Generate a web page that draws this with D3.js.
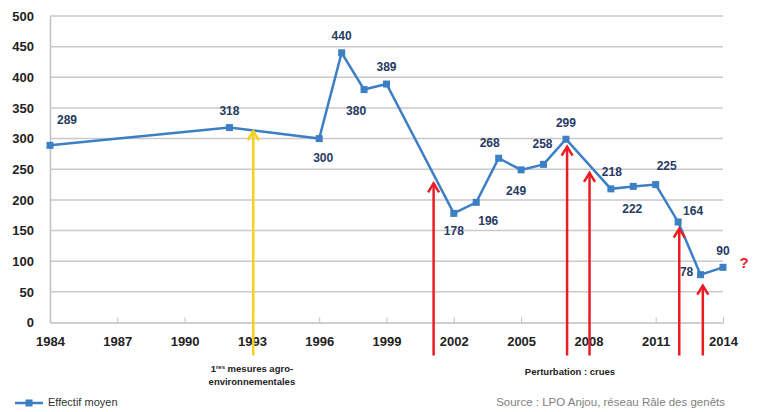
<!DOCTYPE html>
<html>
<head>
<meta charset="utf-8">
<script src="https://cdn.jsdelivr.net/npm/d3@7"></script>
<style>
  body { margin: 0; background: #fff; }
  svg text { font-family: "Liberation Sans", Arial, sans-serif; }
</style>
</head>
<body>
<div id="chart"></div>
<script>
// data
const years = [1984, 1992, 1996, 1997, 1998, 1999, 2002, 2003, 2004, 2005, 2006, 2007, 2009, 2010, 2011, 2012, 2013, 2014];
const values = [289, 318, 300, 440, 380, 389, 178, 196, 268, 249, 258, 299, 218, 222, 225, 164, 78, 90];
const xTicks = [1984, 1987, 1990, 1993, 1996, 1999, 2002, 2005, 2008, 2011, 2014];
const yTicks = [0, 50, 100, 150, 200, 250, 300, 350, 400, 450, 500];
// label offsets [dx, dy] from each marker
const labelPos = [[17, -25], [0, -16], [4, 20], [0, -16], [-8, 22], [0, -16], [0, 18], [12, 19], [-9, -14], [-5, 22], [-1, -20], [0, -15], [1, -16], [-1, 23], [11, -18], [15, -10], [-14, -2], [0, -16]];
// annotation arrows: year position and value reached by the tip
const redArrows = [[2001.1, 227], [2007.05, 287], [2008.05, 244], [2012.05, 153], [2013.1, 60]];
const yellowArrow = [1993.06, 312];

const width = 757, height = 412;
const margin = {top: 16, right: 34, bottom: 89.5, left: 50};

const svg = d3.select('#chart').append('svg')
  .attr('width', width).attr('height', height);

const x = d3.scaleLinear().domain([1984, 2014]).range([margin.left, width - margin.right]);
const y = d3.scaleLinear().domain([0, 500]).range([height - margin.bottom, margin.top]);

// gridlines
svg.append('g').selectAll('line')
  .data(yTicks.filter(d => d > 0))
  .enter().append('line')
  .attr('x1', x(1984)).attr('x2', x(2014))
  .attr('y1', d => y(d)).attr('y2', d => y(d))
  .attr('stroke', '#c9c9c9').attr('stroke-width', 1.5);

// y axis
const yAxis = svg.append('g')
  .attr('transform', 'translate(' + x(1984) + ',0)')
  .call(d3.axisLeft(y).tickValues(yTicks).tickSize(0).tickPadding(16));
yAxis.select('.domain').attr('stroke', '#bfbfbf').attr('stroke-width', 1.5);
yAxis.selectAll('text').attr('font-size', 13).attr('font-weight', 'bold').attr('fill', '#222');

// x axis, ticks pointing up
const xAxis = svg.append('g')
  .attr('transform', 'translate(0,' + y(0) + ')')
  .call(d3.axisBottom(x).tickValues(xTicks).tickFormat(d3.format('d')).tickSizeInner(-5).tickSizeOuter(0).tickPadding(14));
xAxis.select('.domain').attr('stroke', '#bfbfbf').attr('stroke-width', 1.5);
xAxis.selectAll('.tick line').attr('stroke', '#bfbfbf');
xAxis.selectAll('text').attr('font-size', 13).attr('font-weight', 'bold').attr('fill', '#222');

const pts = years.map((d, i) => ({year: d, value: values[i], pos: labelPos[i]}));

// series line
const line = d3.line().x(d => x(d.year)).y(d => y(d.value));
svg.append('path')
  .datum(pts)
  .attr('d', line)
  .attr('fill', 'none')
  .attr('stroke', '#3d7fc4')
  .attr('stroke-width', 2.5);

svg.append('g').selectAll('rect')
  .data(pts)
  .enter().append('rect')
  .attr('x', d => x(d.year) - 3.5)
  .attr('y', d => y(d.value) - 3.5)
  .attr('width', 7).attr('height', 7)
  .attr('fill', '#3d7fc4');

svg.append('g').selectAll('text')
  .data(pts)
  .enter().append('text')
  .attr('x', d => x(d.year) + d.pos[0])
  .attr('y', d => y(d.value) + d.pos[1])
  .attr('text-anchor', 'middle')
  .attr('dominant-baseline', 'middle')
  .attr('font-size', 12)
  .attr('font-weight', 'bold')
  .attr('fill', '#263a63')
  .text(d => d.value);

// arrows
const arrowBottom = y(0) + 33;
function drawArrow(yr, tipVal, color) {
  const ax = x(yr), tip = y(tipVal);
  const g = svg.append('g').attr('stroke', color).attr('stroke-width', 2.5).attr('fill', 'none');
  g.append('line').attr('x1', ax).attr('x2', ax).attr('y1', arrowBottom).attr('y2', tip);
  g.append('path').attr('d', 'M' + (ax - 5.5) + ',' + (tip + 9) + 'L' + ax + ',' + tip + 'L' + (ax + 5.5) + ',' + (tip + 9));
}
drawArrow(yellowArrow[0], yellowArrow[1], '#f7d11a');
redArrows.forEach(d => drawArrow(d[0], d[1], '#ea1c24'));

svg.append('text')
  .attr('x', x(2014) + 21).attr('y', y(90) - 3)
  .attr('text-anchor', 'middle').attr('dominant-baseline', 'middle')
  .attr('font-size', 15).attr('font-weight', 'bold').attr('fill', '#ea1c24')
  .text('?');

// annotations under the axis
const ann = svg.append('g')
  .attr('font-size', 9.5).attr('font-weight', 'bold').attr('fill', '#222')
  .attr('text-anchor', 'middle');
const t1 = ann.append('text').attr('x', x(1993)).attr('y', 372);
t1.append('tspan').text('1');
t1.append('tspan').attr('font-size', 6).attr('dy', -3).text('res');
t1.append('tspan').attr('dy', 3).text(' mesures  agro-');
ann.append('text').attr('x', x(1993)).attr('y', 385).text('environnementales');
ann.append('text').attr('x', 570).attr('y', 375).text('Perturbation : crues');

// legend
const leg = svg.append('g').attr('transform', 'translate(15,403)');
leg.append('line').attr('x1', 0).attr('x2', 28).attr('stroke', '#3d7fc4').attr('stroke-width', 2.5);
leg.append('rect').attr('x', 10.5).attr('y', -3.5).attr('width', 7).attr('height', 7).attr('fill', '#3d7fc4');
leg.append('text').attr('x', 33).attr('dominant-baseline', 'middle')
  .attr('font-size', 11).attr('fill', '#333').text('Effectif moyen');

svg.append('text')
  .attr('x', 725).attr('y', 403)
  .attr('text-anchor', 'end').attr('dominant-baseline', 'middle')
  .attr('font-size', 11.5).attr('fill', '#7f7f7f')
  .text('Source : LPO Anjou, réseau Râle des genêts');
</script>
</body>
</html>
